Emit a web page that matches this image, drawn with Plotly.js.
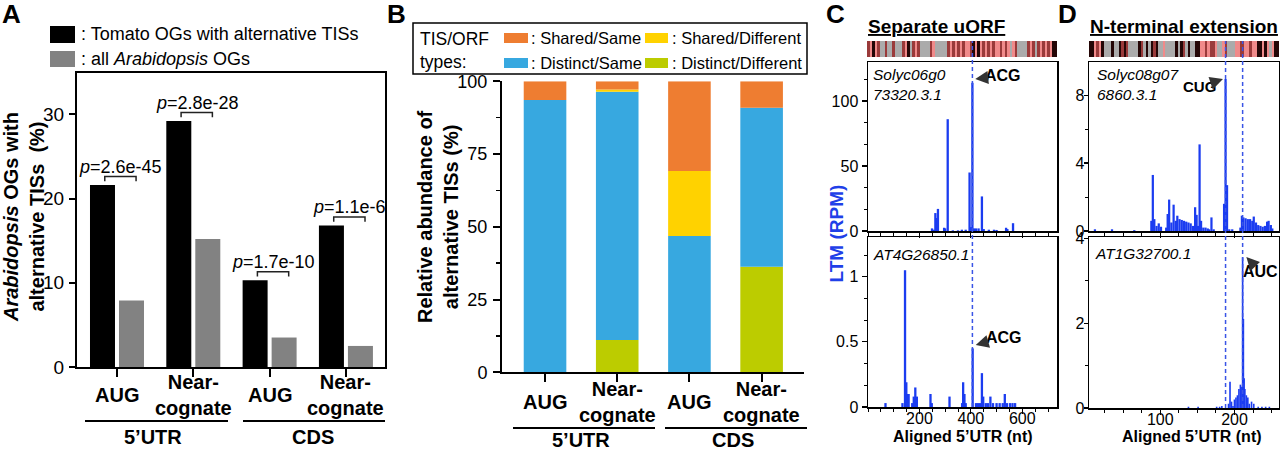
<!DOCTYPE html>
<html><head><meta charset="utf-8">
<script src="https://cdn.plot.ly/plotly-3.0.1.min.js"></script>
<style>html,body{margin:0;padding:0;background:#fff}#chart{width:1280px;height:451px}</style>
</head><body><div id="chart"></div>
<script>
// ---------- Panel A data ----------
const catLabels = ["AUG", "Near-<br>cognate", "AUG", "Near-<br>cognate"];
const groupLabels = ["5\u2019UTR", "CDS"];
const seriesA = [": Tomato OGs with alternative TISs", ": all <i>Arabidopsis</i> OGs"];
const tomatoPct = [21.6, 29.2, 10.3, 16.8];
const arabPct = [7.9, 15.2, 3.5, 2.5];
const pValues = ["2.6e-45", "2.8e-28", "1.7e-10", "1.1e-6"];
// ---------- Panel B data ----------
const typeNames = ["Distinct/Different", "Distinct/Same", "Shared/Different", "Shared/Same"];
const distinctDifferent = [0, 11.1, 0, 36.3];
const distinctSame = [93.6, 85.3, 46.8, 54.6];
const sharedDifferent = [0, 0.8, 22.4, 0];
const sharedSame = [6.4, 2.8, 30.8, 9.1];
// ---------- Panel C data (Separate uORF) ----------
const cTopNt = [249,256,262,266,272,296,300,310,330,350,365,380,395,400,406,412,420,430,443,450,470,490,500,537,542,564];
const cTopRpm = [2,1,13.8,10,17,2.5,2,86,0.5,0.5,1,1,45,3,114,2,2,2,26.6,1.5,1,1,0.8,2.5,1.5,6];
const cBotNt = [68,134,144,149,153,158,172,178,184,190,243,248,317,366,370,375,380,407,420,428,436,443,448,458,466,476,486,500,512,524,532,540,552,562,572];
const cBotRpm = [0.03,0.03,1.05,0.19,0.1,0.1,0.03,0.08,0.15,0.08,0.1,0.03,0.08,0.03,0.19,0.1,0.03,0.45,0.03,0.03,0.03,0.26,0.08,0.03,0.03,0.08,0.03,0.03,0.03,0.03,0.1,0.03,0.03,0.03,0.03];
const cTisNt = [406];
// ---------- Panel D data (N-terminal extension) ----------
const dTopNt = [12,35,65,88,90,92,95,98,101,108,110,112,115,118,121,123,126,129,132,135,138,141,144,147,149,151,153,155,158,161,164,166,169,172,186,188,190,193,197,208,210,212,215,218,221,224,226,229,232,235,238,241,244,246,249,251];
const dTopRpm = [0.1,0.1,0.05,0.6,3.3,0.7,0.3,0.45,0.25,0.2,1.0,1.85,0.5,1.55,0.6,0.9,0.7,0.65,0.6,0.55,0.5,0.45,0.3,1.4,0.95,0.3,5.1,0.6,0.2,0.2,0.15,0.1,0.8,0.1,1.6,8.95,2.7,0.1,0.1,0.2,0.9,0.8,0.75,0.7,0.7,0.6,0.85,0.5,0.35,0.3,0.25,0.3,0.55,0.6,0.35,0.15];
const dBotNt = [138,151,176,180,183,192,194,196,198,200,202,204,206,208,209,211,212,213,214,216,218,220,223,226,232,237,242,247];
const dBotRpm = [0.03,0.03,0.03,0.03,0.05,0.1,0.62,0.15,0.05,0.2,0.25,0.3,0.45,0.55,0.5,3.55,2.1,0.7,0.45,0.3,0.25,0.1,0.15,0.1,0.03,0.03,0.03,0.03];
const dTisNt = [188, 211];
// strip codes: 0 gray, 1 black, 2 dark red, 3 red/pink
const stripC = [2,3,1,3,2,0,0,2,0,0,2,0,0,0,2,3,1,0,2,3,2,0,0,0,0,2,3,0,0,0,0,0,2,3,2,3,2,3,2,3,3,2,1,3,1,3,2,3,2,3,2,3,3,2,3,2,3,0,3,2,0,0,0,0,2,3,2,0,2,3,2,3,2,3,1,1];
const stripD = [1,1,3,2,3,1,0,0,0,1,0,0,1,2,1,2,0,0,0,0,1,2,0,1,0,1,2,1,0,0,3,0,0,0,0,1,0,1,2,0,1,0,0,1,1,3,3,2,3,2,2,3,0,0,3,2,0,0,0,3,3,2,2,3,3,2,3,3,1,1,3,1,3,0,3,1,1];

const FONT = "Liberation Sans, Arial, Helvetica, sans-serif";
const W = 1280, H = 451;
const px = v => v / W;
const py = v => 1 - v / H;
const BLUE = "#1b3cf0";
const COLORS_B = ["#bccc00", "#37a8e0", "#ffd200", "#ee7d31"];

const traces = [];
// Panel A
traces.push({type:"bar", x:[0,1,2,3], y:tomatoPct, name:seriesA[0], marker:{color:"#000", line:{width:0}}, xaxis:"x", yaxis:"y"});
traces.push({type:"bar", x:[0,1,2,3], y:arabPct, name:seriesA[1], marker:{color:"#828282", line:{width:0}}, xaxis:"x", yaxis:"y"});
// Panel B (stacked via base)
const bSeries = [distinctDifferent, distinctSame, sharedDifferent, sharedSame];
let cum = [0,0,0,0];
bSeries.forEach((s, k) => {
  traces.push({type:"bar", x:[0,1,2,3], y:s, base:cum.slice(), name:typeNames[k], width:0.59, offset:-0.295,
    marker:{color:COLORS_B[k], line:{width:0}}, xaxis:"x2", yaxis:"y2"});
  cum = cum.map((c,i) => c + s[i]);
});
// Panel C, D profiles
traces.push({type:"bar", x:cTopNt, y:cTopRpm, width:9, marker:{color:BLUE, line:{width:0}}, xaxis:"x3", yaxis:"y3"});
traces.push({type:"bar", x:cBotNt, y:cBotRpm, width:9, marker:{color:BLUE, line:{width:0}}, xaxis:"x4", yaxis:"y4"});
traces.push({type:"bar", x:dTopNt, y:dTopRpm, width:3, marker:{color:BLUE, line:{width:0}}, xaxis:"x5", yaxis:"y5"});
traces.push({type:"bar", x:dBotNt, y:dBotRpm, width:2.2, marker:{color:BLUE, line:{width:0}}, xaxis:"x6", yaxis:"y6"});
// strips
const stripScale = [[0,"#ababab"],[0.3333,"#240606"],[0.6667,"#9a3a3a"],[1,"#f08a8a"]];
traces.push({type:"heatmap", z:[stripC], x:stripC.map((_,i)=>i), zmin:0, zmax:3, colorscale:stripScale, showscale:false, xaxis:"x7", yaxis:"y7", hoverinfo:"skip"});
traces.push({type:"heatmap", z:[stripD], x:stripD.map((_,i)=>i), zmin:0, zmax:3, colorscale:stripScale, showscale:false, xaxis:"x8", yaxis:"y8", hoverinfo:"skip"});

const base = {showgrid:false, zeroline:false, showline:true, linecolor:"#000", fixedrange:true, tickcolor:"#000"};
const tf = s => ({size:s, color:"#000", family:FONT});

const layout = {
  width:W, height:H, margin:{l:0,r:0,t:0,b:0}, paper_bgcolor:"#fff", plot_bgcolor:"#fff",
  showlegend:false, barmode:"group", bargap:0.24, bargroupgap:0.138, font:{family:FONT, color:"#000"},
  xaxis: Object.assign({}, base, {domain:[px(77),px(385)], range:[-0.524,3.512], anchor:"y", linewidth:2, mirror:true,
    ticks:"outside", ticklen:8, tickwidth:2, tickvals:[0,1,2,3], showticklabels:false}),
  yaxis: Object.assign({}, base, {domain:[py(367),py(73)], range:[0,34.9], anchor:"x", linewidth:2, mirror:true,
    ticks:"outside", ticklen:6, tickwidth:2, tickvals:[0,10,20,30], tickfont:tf(19), ticklabelstandoff:1}),
  xaxis2: Object.assign({}, base, {domain:[px(502),px(804)], range:[-0.596,3.587], anchor:"y2", linewidth:2,
    ticks:"outside", ticklen:8, tickwidth:2, tickvals:[0,1,2,3], showticklabels:false}),
  yaxis2: Object.assign({}, base, {domain:[py(372.3),py(81.3)], range:[0,100], anchor:"x2", linewidth:2,
    ticks:"outside", ticklen:7, tickwidth:2, tickvals:[0,25,50,75,100], tickfont:tf(18), ticklabelstandoff:2,
    minor:{dtick:12.5, tick0:0, ticks:"outside", ticklen:4, tickwidth:1.5, tickcolor:"#000", showgrid:false}}),
  xaxis3: Object.assign({}, base, {domain:[px(868),px(1057)], range:[0,735], anchor:"y3", linewidth:1.5, mirror:true,
    ticks:"outside", ticklen:5, tickwidth:1.2, tickvals:[200,400,600], showticklabels:false,
    minor:{dtick:50, tick0:0, ticks:"outside", ticklen:3, tickwidth:1, tickcolor:"#000", showgrid:false}}),
  yaxis3: Object.assign({}, base, {domain:[py(231),py(62)], range:[0,130], anchor:"x3", linewidth:1.5, mirror:true,
    ticks:"outside", ticklen:5, tickwidth:1.2, tickvals:[0,50,100], tickfont:tf(16), ticklabelstandoff:0,
    minor:{dtick:50/3, tick0:0, ticks:"outside", ticklen:3, tickwidth:1, tickcolor:"#000", showgrid:false}}),
  xaxis4: Object.assign({}, base, {domain:[px(868),px(1057)], range:[0,735], anchor:"y4", linewidth:1.5, mirror:true,
    ticks:"outside", ticklen:5, tickwidth:1.2, tickvals:[200,400,600], tickfont:tf(16), ticklabelstandoff:-9,
    minor:{dtick:50, tick0:0, ticks:"outside", ticklen:3, tickwidth:1, tickcolor:"#000", showgrid:false}}),
  yaxis4: Object.assign({}, base, {domain:[py(407),py(237)], range:[0,1.305], anchor:"x4", linewidth:1.5, mirror:true,
    ticks:"outside", ticklen:5, tickwidth:1.2, tickvals:[0,0.5,1], ticktext:["0","0.5","1"], tickfont:tf(16), ticklabelstandoff:0,
    minor:{dtick:1/6, tick0:0, ticks:"outside", ticklen:3, tickwidth:1, tickcolor:"#000", showgrid:false}}),
  xaxis5: Object.assign({}, base, {domain:[px(1089),px(1279)], range:[4,260], anchor:"y5", linewidth:1.5, mirror:true,
    ticks:"outside", ticklen:5, tickwidth:1.2, tickvals:[100,200], showticklabels:false,
    minor:{dtick:25, tick0:0, ticks:"outside", ticklen:3, tickwidth:1, tickcolor:"#000", showgrid:false}}),
  yaxis5: Object.assign({}, base, {domain:[py(231),py(62)], range:[0,9.95], anchor:"x5", linewidth:1.5, mirror:true,
    ticks:"outside", ticklen:4, tickwidth:1.2, tickvals:[0,4,8], tickfont:tf(16), ticklabelstandoff:-4,
    minor:{dtick:2, tick0:0, ticks:"outside", ticklen:3, tickwidth:1, tickcolor:"#000", showgrid:false}}),
  xaxis6: Object.assign({}, base, {domain:[px(1089),px(1279)], range:[4,260], anchor:"y6", linewidth:1.5, mirror:true,
    ticks:"outside", ticklen:5, tickwidth:1.2, tickvals:[100,200], tickfont:tf(16), ticklabelstandoff:-9,
    minor:{dtick:25, tick0:0, ticks:"outside", ticklen:3, tickwidth:1, tickcolor:"#000", showgrid:false}}),
  yaxis6: Object.assign({}, base, {domain:[py(408),py(237)], range:[0,4.03], anchor:"x6", linewidth:1.5, mirror:true,
    ticks:"outside", ticklen:4, tickwidth:1.2, tickvals:[0,2,4], tickfont:tf(16), ticklabelstandoff:-4,
    minor:{dtick:1, tick0:0, ticks:"outside", ticklen:3, tickwidth:1, tickcolor:"#000", showgrid:false}}),
  xaxis7: {domain:[px(867),px(1057)], range:[-0.5, stripC.length-0.5], anchor:"y7", visible:false, fixedrange:true},
  yaxis7: {domain:[py(57),py(41)], range:[-0.5,0.5], anchor:"x7", visible:false, fixedrange:true},
  xaxis8: {domain:[px(1089),px(1279)], range:[-0.5, stripD.length-0.5], anchor:"y8", visible:false, fixedrange:true},
  yaxis8: {domain:[py(57),py(41)], range:[-0.5,0.5], anchor:"x8", visible:false, fixedrange:true}
};

// ---------- shapes ----------
const shapes = [];
function rectPx(x0,y0,x1,y1,fill,lineW){ shapes.push({type:"rect", xref:"paper", yref:"paper", x0:px(x0), x1:px(x1), y0:py(y0), y1:py(y1),
  fillcolor:fill, line:{width:lineW||0, color:"#000"}}); }
function linePx(x0,y0,x1,y1,w){ shapes.push({type:"line", xref:"paper", yref:"paper", x0:px(x0), x1:px(x1), y0:py(y0), y1:py(y1), line:{width:w, color:"#000"}}); }
// A legend swatches
rectPx(50,26,75,43,"#000");
rectPx(50,51,75,67,"#828282");
// A group lines
linePx(85,421,228,421,2); linePx(243,421,385,421,2);
// A p-value brackets
tomatoPct.forEach((v,i) => {
  const yt = v + 1.0, yb = yt - 0.55, x0 = i - 0.16, x1 = i + 0.25;
  shapes.push({type:"path", xref:"x", yref:"y", path:`M ${x0},${yb} L ${x0},${yt} L ${x1},${yt} L ${x1},${yb}`, line:{width:1.5, color:"#222"}});
});
// B legend
rectPx(413,23,807,74,"rgba(0,0,0,0)",1.5);
rectPx(504,33,528,43,COLORS_B[3]); rectPx(645,33,668,43,COLORS_B[2]);
rectPx(504,58,528,68,COLORS_B[1]); rectPx(645,58,668,68,COLORS_B[0]);
// B group lines
linePx(513,428,655,428,2); linePx(665,428,807,428,2);
// dashed TIS lines
cTisNt.forEach(t => shapes.push({type:"line", xref:"x4", yref:"paper", x0:t, x1:t, y0:py(407), y1:py(41), layer:"above", line:{width:1.5, color:"#3a55e6", dash:"4px,3px"}}));
dTisNt.forEach(t => shapes.push({type:"line", xref:"x6", yref:"paper", x0:t, x1:t, y0:py(408), y1:py(41), layer:"above", line:{width:1.5, color:"#3a55e6", dash:"4px,3px"}}));
layout.shapes = shapes;

// ---------- annotations ----------
const ann = [];
function txt(text, x, y, size, opts){ const o = Object.assign({text, x:px(x), y:py(y), xref:"paper", yref:"paper", showarrow:false,
  xanchor:"center", yanchor:"middle", font:{size, color:"#000", family:FONT}}, opts||{});
  if (opts && opts.color) { o.font.color = opts.color; delete o.color; }
  ann.push(o); }
// panel letters
txt("<b>A</b>", 11, 14, 26); txt("<b>B</b>", 396, 14, 26); txt("<b>C</b>", 835, 14, 26); txt("<b>D</b>", 1067, 14, 26);
// A legend text
txt(seriesA[0], 79, 34, 18, {xanchor:"left"});
txt(seriesA[1], 79, 59, 18, {xanchor:"left"});
// A y title
txt("<b><i>Arabidopsis</i> OGs with<br>alternative TISs  (%)</b>", 24, 217, 20, {textangle:-90});
// A p-values
tomatoPct.forEach((v,i) => ann.push({text:`<i>p</i>=${pValues[i]}`, xref:"x", yref:"y", x:i+0.05, y:v+1.0, yanchor:"bottom", yshift:-2,
  xanchor:"center", showarrow:false, font:{size:18, color:"#000", family:FONT}}));
// A category labels
catLabels.forEach((c,i) => ann.push({text:`<b>${c}</b>`, xref:"x", yref:"paper", x:i, y:py(395), xanchor:"center", yanchor:"middle", showarrow:false, font:{size:20, color:"#000", family:FONT}}));
txt(`<b>${groupLabels[0]}</b>`, 153, 437, 20); txt(`<b>${groupLabels[1]}</b>`, 312.5, 437, 20);
// B legend text
txt("TIS/ORF<br>types:", 418, 51, 17.5, {xanchor:"left", align:"left"});
txt(": " + typeNames[3], 529, 38, 16.5, {xanchor:"left"});
txt(": " + typeNames[2], 670, 38, 16.5, {xanchor:"left"});
txt(": " + typeNames[1], 529, 63, 16.5, {xanchor:"left"});
txt(": " + typeNames[0], 670, 63, 16.5, {xanchor:"left"});
// B y title
txt("<b>Relative abundance of<br>alternative TISs (%)</b>", 438, 217, 20, {textangle:-90});
catLabels.forEach((c,i) => ann.push({text:`<b>${c}</b>`, xref:"x2", yref:"paper", x:i, y:py(401.5), xanchor:"center", yanchor:"middle", showarrow:false, font:{size:20, color:"#000", family:FONT}}));
txt(`<b>${groupLabels[0]}</b>`, 581, 440, 20); txt(`<b>${groupLabels[1]}</b>`, 733, 440, 20);
// C
txt("<b><u>Separate uORF</u></b>", 866, 27, 19, {xanchor:"left"});
txt("<i>Solyc06g0</i>", 871, 75, 15.5, {xanchor:"left"});
txt("<i>73320.3.1</i>", 871, 94, 15.5, {xanchor:"left"});
txt("<i>AT4G26850.1</i>", 871, 254, 15.5, {xanchor:"left"});
txt("<b>LTM (RPM)</b>", 836.5, 234, 19, {textangle:-90, color:"#1f40e8"});
txt("<b>Aligned 5\u2019UTR (nt)</b>", 963, 436, 16);
ann.push({text:"<b>ACG</b>", xref:"x3", yref:"y3", x:cTisNt[0]+11, y:117, ax:28, ay:-3, showarrow:true, arrowhead:2, arrowsize:1.3, arrowwidth:2, arrowcolor:"#333", standoff:0, font:{size:16, color:"#000", family:FONT}});
ann.push({text:"<b>ACG</b>", xref:"x4", yref:"y4", x:cTisNt[0]+13, y:0.475, ax:28, ay:-8, showarrow:true, arrowhead:2, arrowsize:1.3, arrowwidth:2, arrowcolor:"#333", standoff:0, font:{size:16, color:"#000", family:FONT}});
// D
txt("<b><u>N-terminal extension</u></b>", 1088, 27, 19, {xanchor:"left"});
txt("<i>Solyc08g07</i>", 1095, 75, 15.5, {xanchor:"left"});
txt("<i>6860.3.1</i>", 1095, 94, 15.5, {xanchor:"left"});
txt("<i>AT1G32700.1</i>", 1093, 253, 15.5, {xanchor:"left"});
txt("<b>Aligned 5\u2019UTR (nt)</b>", 1192, 436, 16);
ann.push({text:"<b>CUG</b>", xref:"x5", yref:"y5", x:dTisNt[0]-3.5, y:8.95, ax:-23, ay:8, showarrow:true, arrowhead:2, arrowsize:1.3, arrowwidth:2, arrowcolor:"#333", standoff:0, font:{size:15, color:"#000", family:FONT}});
ann.push({text:"<b>AUC</b>", xref:"x6", yref:"y6", x:dTisNt[1]+5, y:3.56, ax:14, ay:15, showarrow:true, arrowhead:2, arrowsize:1.3, arrowwidth:2, arrowcolor:"#333", standoff:0, font:{size:16, color:"#000", family:FONT}});
layout.annotations = ann;

Plotly.newPlot("chart", traces, layout, {displayModeBar:false, staticPlot:true});
</script></body></html>
